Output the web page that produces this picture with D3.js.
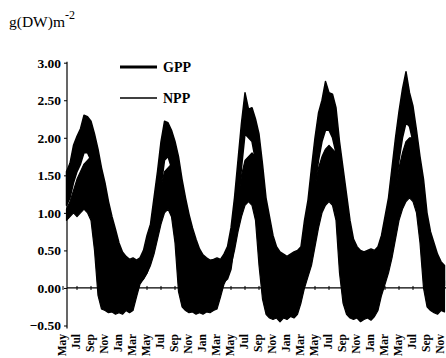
<!DOCTYPE html>
<meta charset="utf-8">
<script src="https://d3js.org/d3.v7.min.js"></script>
<style>
  body { margin: 0; background: #fff; }
  svg text { font-family: "Times New Roman", "Liberation Serif", "DejaVu Serif", serif; fill: #000; }
</style>
<div id="chart"></div>
<script>
// month labels along the x axis, every 2 months from the first May
const monthLabels = ["May","Jul","Sep","Nov","Jan","Mar",
                     "May","Jul","Sep","Nov","Jan","Mar",
                     "May","Jul","Sep","Nov","Jan","Mar",
                     "May","Jul","Sep","Nov","Jan","Mar",
                     "May","Jul","Sep","Nov"];
const yTicks = [-0.5, 0, 0.5, 1, 1.5, 2, 2.5, 3];

// half-monthly envelopes of the daily values, g(DW) m-2
const gppHi = [1.55,1.66,1.9,2.02,2.12,2.3,2.28,2.22,2.05,1.85,1.6,1.4,1.15,0.95,0.78,0.6,0.48,0.42,0.38,0.4,
  0.37,0.4,0.5,0.7,0.85,1.2,1.55,1.95,2.22,2.2,2.1,1.95,1.75,1.45,1.2,0.98,0.8,0.65,0.52,0.44,
  0.4,0.37,0.38,0.4,0.38,0.45,0.55,0.8,1.2,1.7,2.2,2.6,2.38,2.4,2.25,2.05,1.65,1.2,0.95,0.7,
  0.55,0.48,0.45,0.42,0.45,0.48,0.5,0.55,0.9,1.17,1.6,2.0,2.33,2.5,2.75,2.6,2.58,2.4,1.95,1.6,
  1.25,0.9,0.65,0.55,0.5,0.48,0.5,0.52,0.5,0.55,0.7,0.95,1.2,1.6,2.0,2.35,2.65,2.88,2.6,2.42,
  2.1,1.75,1.45,1.0,0.75,0.6,0.45,0.35,0.3];
const gppLo = [1.1,1.2,1.4,1.55,1.65,1.8,1.8,1.7,1.5,1.3,1.1,0.9,0.7,0.5,0.35,0.2,0.1,0.05,0.05,0.05,
  0.05,0.08,0.12,0.2,0.35,0.6,0.95,1.35,1.7,1.75,1.6,1.45,1.25,1.0,0.8,0.55,0.4,0.25,0.15,0.08,
  0.05,0.05,0.05,0.05,0.05,0.08,0.12,0.25,0.6,1.1,1.6,2.05,2.0,1.95,1.7,1.5,1.15,0.8,0.55,0.35,
  0.2,0.1,0.08,0.05,0.05,0.05,0.05,0.08,0.15,0.5,0.95,1.35,1.7,1.95,2.1,2.1,2.0,1.8,1.4,1.1,
  0.8,0.5,0.3,0.2,0.1,0.08,0.05,0.05,0.05,0.05,0.08,0.15,0.45,0.9,1.3,1.7,2.0,2.2,2.15,1.95,
  1.6,1.25,1.0,0.6,0.4,0.25,0.1,0.05,0.03];
const nppHi = [1.05,1.15,1.3,1.45,1.55,1.65,1.7,1.75,1.6,1.4,1.2,1.0,0.8,0.6,0.45,0.3,0.2,0.15,0.1,0.1,
  0.1,0.12,0.18,0.3,0.45,0.75,1.05,1.35,1.55,1.6,1.65,1.55,1.35,1.1,0.85,0.65,0.45,0.3,0.2,0.12,
  0.1,0.1,0.1,0.1,0.1,0.12,0.2,0.35,0.7,1.15,1.5,1.7,1.75,1.8,1.75,1.55,1.2,0.85,0.65,0.4,
  0.28,0.2,0.15,0.12,0.12,0.12,0.12,0.15,0.25,0.6,1.0,1.35,1.6,1.75,1.85,1.9,1.85,1.8,1.5,1.2,
  0.9,0.6,0.35,0.25,0.18,0.15,0.12,0.12,0.12,0.12,0.15,0.25,0.55,0.95,1.3,1.6,1.8,1.95,2.0,2.0,
  1.8,1.45,1.1,0.7,0.45,0.3,0.2,0.12,0.1];
const nppLo = [0.9,0.95,1.0,0.95,1.0,1.05,1.0,0.9,0.5,-0.1,-0.28,-0.3,-0.33,-0.32,-0.35,-0.33,-0.35,-0.3,-0.33,-0.3,
  -0.12,0.05,0.12,0.2,0.3,0.45,0.65,0.85,1.0,1.05,0.95,0.6,-0.05,-0.25,-0.3,-0.33,-0.32,-0.35,-0.33,-0.35,
  -0.32,-0.33,-0.3,-0.28,-0.12,0.05,0.15,0.3,0.5,0.75,0.95,1.1,1.15,1.1,0.9,0.3,-0.15,-0.35,-0.4,-0.42,
  -0.4,-0.45,-0.4,-0.42,-0.38,-0.4,-0.35,-0.2,0.0,0.15,0.3,0.55,0.8,1.0,1.1,1.15,1.1,0.9,0.2,-0.2,
  -0.35,-0.4,-0.42,-0.4,-0.45,-0.42,-0.4,-0.43,-0.38,-0.3,-0.1,0.05,0.2,0.4,0.65,0.9,1.05,1.15,1.2,1.15,
  1.0,0.6,0.0,-0.25,-0.3,-0.33,-0.35,-0.3,-0.32];

// months since the first May, one value every half month
const months = gppHi.map((d, i) => 0.5 + i * 0.5);

const W = 446, H = 358;
const svg = d3.select("#chart").append("svg")
  .attr("width", W).attr("height", H);

const x = d3.scaleLinear().domain([0, 54]).range([63, 441]);
const y = d3.scaleLinear().domain([-0.5, 3]).range([325.5, 62.7]);

// bands of daily values
const band = (lo, hi) => d3.area()
  .x((d, i) => x(months[i]))
  .y0((d, i) => y(lo[i]))
  .y1((d, i) => y(hi[i]));

svg.append("path").datum(gppHi)
  .attr("d", band(gppLo, gppHi))
  .attr("fill", "#000").attr("stroke", "#000").attr("stroke-width", 1.5)
  .attr("stroke-linejoin", "round");
svg.append("path").datum(nppHi)
  .attr("d", band(nppLo, nppHi))
  .attr("fill", "#000").attr("stroke", "#000").attr("stroke-width", 1.2)
  .attr("stroke-linejoin", "round");

// zero line with small ticks
svg.append("line")
  .attr("x1", 67).attr("x2", W)
  .attr("y1", y(0)).attr("y2", y(0))
  .attr("stroke", "#000").attr("stroke-width", 1.3);
svg.selectAll(".ztick")
  .data(monthLabels)
  .join("line")
    .attr("x1", (d, i) => x(i * 2)).attr("x2", (d, i) => x(i * 2))
    .attr("y1", y(0) - 2).attr("y2", y(0) + 2)
    .attr("stroke", "#000");

// Y axis
const yAxis = svg.append("g")
  .attr("transform", "translate(67,0)")
  .call(d3.axisLeft(y).tickValues(yTicks).tickSize(3).tickPadding(3)
    .tickFormat(d3.format(".2f")));
yAxis.attr("font-family", null);
yAxis.select(".domain").attr("d", `M0,${y(3) - 1}V${y(-0.5) + 3}`).attr("stroke-width", 1.2);
yAxis.selectAll("text")
  .style("font-size", "13.5px").style("font-weight", "bold");

// X labels, rotated
svg.selectAll(".xlab")
  .data(monthLabels)
  .join("text")
    .attr("transform", (d, i) => `translate(${x(i * 2) + 3},334) rotate(-90)`)
    .attr("text-anchor", "end")
    .style("font-size", "11.5px").style("font-weight", "bold")
    .text(d => d);

// unit title
const title = svg.append("text").attr("x", 9).attr("y", 27)
  .style("font-size", "15.5px");
title.append("tspan").text("g(DW)m");
title.append("tspan").attr("dy", -8).style("font-size", "12px").text("-2");

// legend
const legend = [{name: "GPP", w: 3.2, ly: 67}, {name: "NPP", w: 1.3, ly: 98}];
svg.selectAll(".legline")
  .data(legend)
  .join("line")
    .attr("x1", 120).attr("x2", 157)
    .attr("y1", d => d.ly).attr("y2", d => d.ly)
    .attr("stroke", "#000").attr("stroke-width", d => d.w);
svg.selectAll(".legtext")
  .data(legend)
  .join("text")
    .attr("x", 163).attr("y", d => d.ly + 5)
    .style("font-size", "14px").style("font-weight", "bold")
    .text(d => d.name);
</script>
